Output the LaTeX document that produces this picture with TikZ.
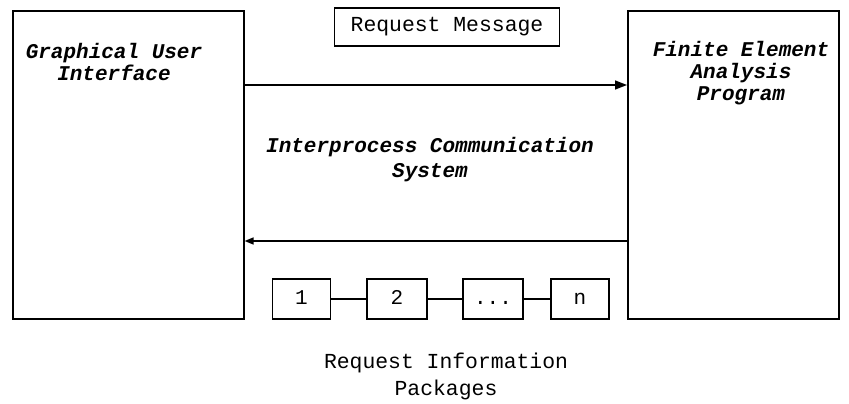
\documentclass[tikz,border=0pt]{standalone}
\usepackage{fontspec}
\setmonofont{Liberation Mono}
\usetikzlibrary{arrows.meta}
\begin{document}
\begin{tikzpicture}[x=1pt,y=-1pt,
  frame/.style={draw, line width=1.6pt},
  pkg/.style={draw, line width=1.3pt, minimum width=58pt, minimum height=40pt, inner sep=0pt,
    text height=14pt, text depth=4pt, font=\fontsize{21}{22}\selectfont\ttfamily},
  title/.style={font=\fontsize{21}{22}\selectfont\ttfamily\bfseries\itshape, align=center, inner sep=0pt},
  plain/.style={font=\fontsize{21.4}{27}\selectfont\ttfamily, align=center, inner sep=0pt},
  msg/.style={-{Triangle[length=12pt,width=9pt]}, line width=1.6pt},
  back/.style={-{Triangle[length=9pt,width=7pt]}, line width=1.6pt}]
\useasboundingbox (0,0) rectangle (849,404);
% the two process boxes
\node[frame, minimum width=231pt, minimum height=308pt, inner sep=0pt, anchor=north west] (gui) at (12,10) {};
\node[frame, minimum width=211pt, minimum height=308pt, inner sep=0pt, anchor=north west] (fea) at (627,10) {};
\node[title] (guit) at (114,62) {Graphical User\\Interface};
\node[title] (feat) at (741,73) {Finite Element\\Analysis\\Program};
% message label
\node[draw, line width=1.3pt, minimum width=225pt, minimum height=38pt, inner sep=0pt,
  font=\fontsize{21.4}{22}\selectfont\ttfamily] (req) at (447,27) {Request Message};
% communication channel
\coordinate (a1) at (gui.east |- 0,85);
\coordinate (a2) at (fea.west |- 0,85);
\coordinate (b1) at (fea.west |- 0,241);
\coordinate (b2) at (gui.east |- 0,241);
\draw[msg] (a1) -- (a2);
\draw[back] (b1) -- (b2);
\node[font=\fontsize{21}{25}\selectfont\ttfamily\bfseries\itshape, align=center, inner sep=0pt]
  (ipc) at (430,159.5) {Interprocess Communication\\System};
% request packages
\node[pkg] (p1) at (301.5,299) {1};
\node[pkg, minimum width=60pt] (p2) at (397,299) {2};
\node[pkg, minimum width=60pt] (p3) at (493,299) {...};
\node[pkg] (pn) at (580,299) {n};
\draw[line width=1.3pt] (p1) -- (p2) (p2) -- (p3) (p3) -- (pn);
\node[plain] (rip) at (446,376.5) {Request Information\\Packages};
\end{tikzpicture}
\end{document}
